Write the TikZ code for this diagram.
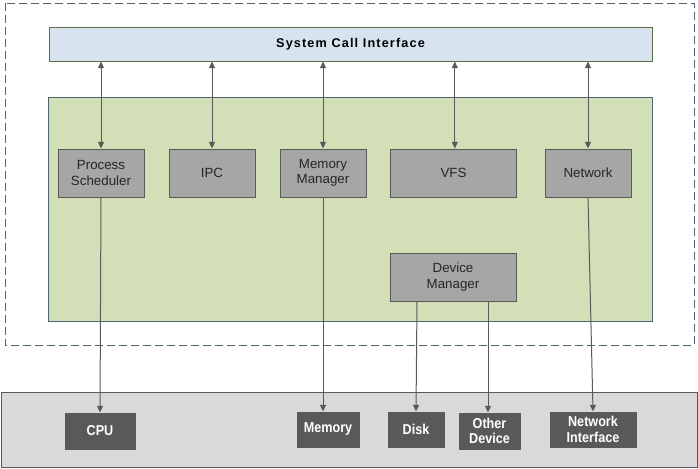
\documentclass[tikz,border=0pt]{standalone}
\usepackage{fontspec}
\setmainfont{Liberation Sans}
\newfontfamily\hwfont[FakeStretch=0.88]{Liberation Sans}
\usetikzlibrary{arrows.meta}

\definecolor{callfill}{HTML}{D7E3EF}
\definecolor{callline}{HTML}{5B6E45}
\definecolor{kernfill}{HTML}{D3E0B7}
\definecolor{kernline}{HTML}{4D6472}
\definecolor{modfill}{HTML}{A6A6A6}
\definecolor{modline}{HTML}{595959}
\definecolor{hwbox}{HTML}{D9D9D9}
\definecolor{hwfill}{HTML}{595959}
\definecolor{wire}{HTML}{595959}

\tikzset{
    module/.style={draw=modline, fill=modfill, line width=0.75pt,
        minimum width=64.5pt, minimum height=36pt, align=center,
        inner sep=1pt, font=\fontsize{10}{11.5}\selectfont, text=black!85},
    hardware/.style={draw=modline, fill=hwfill, line width=0.75pt,
        minimum height=26.25pt, align=center, inner sep=1pt,
        font=\hwfont\bfseries\fontsize{10.75}{11.5}\selectfont, text=white},
    twoway/.style={draw=wire, line width=0.75pt, {Triangle[length=5pt,width=4.5pt]}-{Triangle[length=5pt,width=4.5pt]}},
    oneway/.style={draw=wire, line width=0.75pt, -{Triangle[length=5pt,width=4.5pt]}}
}

\begin{document}
\begin{tikzpicture}[x=0.75pt, y=-0.75pt]
    \useasboundingbox (0, 0) rectangle (698, 468);

    % outer dashed area and the two containers
    \draw [kernline, line width=0.75pt, dash pattern=on 6pt off 3pt] (5, 3) rectangle (694, 345);
    \draw [kernline, fill=kernfill, line width=0.75pt] (48, 97) rectangle (652, 321);
    \draw [modline, fill=hwbox, line width=0.75pt] (1, 392) rectangle (697, 467);

    \node [draw=callline, fill=callfill, line width=0.75pt, minimum width=452.25pt,
        minimum height=25.5pt, font=\addfontfeature{LetterSpace=9}\bfseries\fontsize{9.5}{11}\selectfont]
        (sci) at (350.5, 44) {System Call Interface};

    % kernel modules
    \node [module] (sched) at (101, 173) {Process\\Scheduler};
    \node [module] (ipc) at (212, 173) {IPC};
    \node [module] (memman) at (323, 173) {Memory\\Manager};
    \node [module, minimum width=94.5pt] (vfs) at (453.5, 173) {VFS};
    \node [module] (net) at (588, 173) {Network};
    \node [module, minimum width=94.5pt] (devman) at (453, 277) {Device\\Manager};

    % hardware
    \node [hardware, minimum width=52.5pt, minimum height=27pt] (cpu) at (100, 431) {CPU};
    \node [hardware, minimum width=46.5pt] (mem) at (328, 429.5) {Memory};
    \node [hardware, minimum width=42pt] (disk) at (416, 429.5) {Disk};
    \node [hardware, minimum width=45.75pt, minimum height=27pt] (other) at (489.5, 431) {Other\\Device};
    \node [hardware, minimum width=64.5pt] (netif) at (593, 429.5) {Network\\Interface};

    % system call links
    \draw [twoway] (sched.north) -- (sched.north |- sci.south);
    \draw [twoway] (ipc.north) -- (ipc.north |- sci.south);
    \draw [twoway] (memman.north) -- (memman.north |- sci.south);
    \draw [twoway] ([xshift=1pt]vfs.north) -- ([xshift=1pt]vfs.north |- sci.south);
    \draw [twoway] (net.north) -- (net.north |- sci.south);

    % down to the hardware
    \draw [oneway] (sched.south) -- (cpu.north);
    \draw [oneway] (memman.south) -- (memman.south |- mem.north);
    \draw [oneway] ([xshift=-27pt]devman.south) -- (disk.north);
    \draw [oneway] ([xshift=26.25pt]devman.south) -- ([xshift=26.25pt]devman.south |- other.north);
    \draw [oneway] (net.south) -- (netif.north);
\end{tikzpicture}
\end{document}
